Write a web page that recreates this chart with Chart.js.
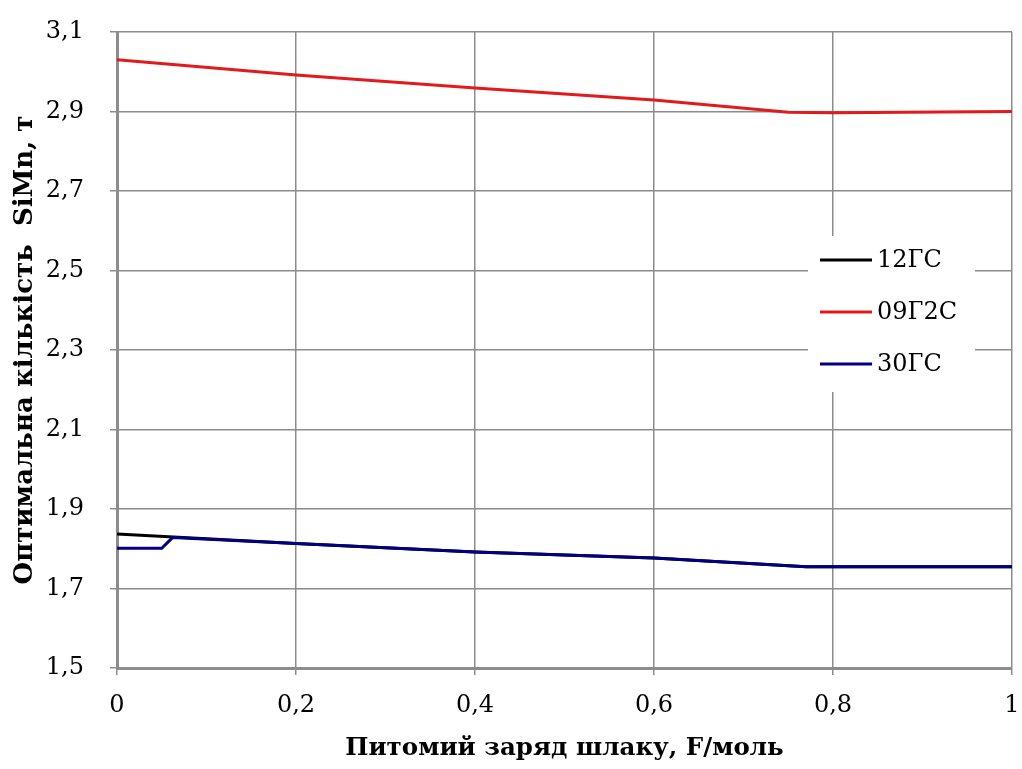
<!DOCTYPE html>
<html>
<head>
<meta charset="utf-8">
<script src="https://cdn.jsdelivr.net/npm/chart.js@4/dist/chart.umd.min.js"></script>
<style>
  html, body { margin: 0; padding: 0; background: #fff; }
  #wrap { width: 1022px; height: 769px; }
</style>
</head>
<body>
<div id="wrap"><canvas id="chart" width="1022" height="769"></canvas></div>
<script>
// series names
let seriesNames = ['12ГС', '09Г2С', '30ГС'];
let seriesColors = ['#000000', '#e31a1c', '#000080'];

// 12ГС
let x12 = [0, 0.2, 0.4, 0.6, 0.77, 1];
let y12 = [1.837, 1.813, 1.792, 1.777, 1.755, 1.755];

// 09Г2С
let x09 = [0, 0.2, 0.4, 0.6, 0.75, 0.8, 1];
let y09 = [3.03, 2.992, 2.959, 2.929, 2.898, 2.897, 2.9];

// 30ГС
let x30 = [0, 0.05, 0.062, 0.2, 0.4, 0.6, 0.77, 1];
let y30 = [1.801, 1.801, 1.828, 1.813, 1.792, 1.777, 1.755, 1.755];

let xTitle = 'Питомий заряд шлаку, F/моль';
let yTitle = 'Оптимальна кількість  SiMn, т';

function toPoints(xs, ys) {
    return xs.map((x, i) => ({ x: x, y: ys[i] }));
}

let font = 'DejaVu Serif';
let gridColor = '#8c8c8c';

// legend drawn inside the plot area
let insideLegend = {
    id: 'insideLegend',
    afterDraw(chart) {
        let ctx = chart.ctx;
        ctx.save();
        ctx.fillStyle = '#fff';
        ctx.fillRect(808, 236, 167, 156);
        ctx.font = '24px ' + font;
        ctx.textBaseline = 'middle';
        chart.data.datasets.forEach((ds, i) => {
            let y = 260 + i * 52;
            ctx.strokeStyle = ds.borderColor;
            ctx.lineWidth = 3;
            ctx.beginPath();
            ctx.moveTo(820, y);
            ctx.lineTo(872, y);
            ctx.stroke();
            ctx.fillStyle = '#000';
            ctx.fillText(ds.label, 877, y + 1);
        });
        ctx.restore();
    }
};

// order: 30ГС on top of 12ГС
let drawOrder = [2, 1, 0];

let datasets = [
    { label: seriesNames[0], data: toPoints(x12, y12) },
    { label: seriesNames[1], data: toPoints(x09, y09) },
    { label: seriesNames[2], data: toPoints(x30, y30) }
].map((d, i) => Object.assign(d, {
    borderColor: seriesColors[i],
    backgroundColor: seriesColors[i],
    borderWidth: 3,
    pointRadius: 0,
    showLine: true,
    tension: 0,
    fill: false,
    order: drawOrder[i]
}));

let fmt = v => v.toFixed(1).replace('.', ',').replace(',0', '');

new Chart(document.getElementById('chart').getContext('2d'), {
    type: 'scatter',
    data: { datasets: datasets },
    options: {
        responsive: false,
        animation: false,
        layout: { padding: { left: 0, top: 32, right: 0, bottom: 0 } },
        plugins: {
            legend: { display: false },
            tooltip: { enabled: false }
        },
        scales: {
            x: {
                type: 'linear',
                min: 0,
                max: 1,
                ticks: {
                    stepSize: 0.2,
                    color: '#000',
                    font: { family: font, size: 24 },
                    padding: 16,
                    callback: v => fmt(v)
                },
                grid: { color: gridColor, lineWidth: 1.5, tickLength: 7 },
                border: { color: gridColor, width: 3 },
                title: {
                    display: true,
                    text: xTitle,
                    color: '#000',
                    font: { family: font, size: 24.5, weight: 'bold' },
                    padding: { top: 10, bottom: 6 }
                },
                afterFit: s => { s.height = 101; s.paddingRight = 10; }
            },
            y: {
                min: 1.5,
                max: 3.1,
                ticks: {
                    stepSize: 0.2,
                    color: '#000',
                    font: { family: font, size: 24 },
                    padding: 26,
                    callback: v => fmt(v)
                },
                grid: { color: gridColor, lineWidth: 1.5, tickLength: 7 },
                border: { color: gridColor, width: 3 },
                title: {
                    display: true,
                    text: yTitle,
                    color: '#000',
                    font: { family: font, size: 26, weight: 'bold' },
                    padding: { bottom: 0, top: 10 }
                },
                afterFit: s => { s.width = 117; s.paddingTop = 0; s.paddingBottom = 0; }
            }
        }
    },
    plugins: [insideLegend]
});
</script>
</body>
</html>
